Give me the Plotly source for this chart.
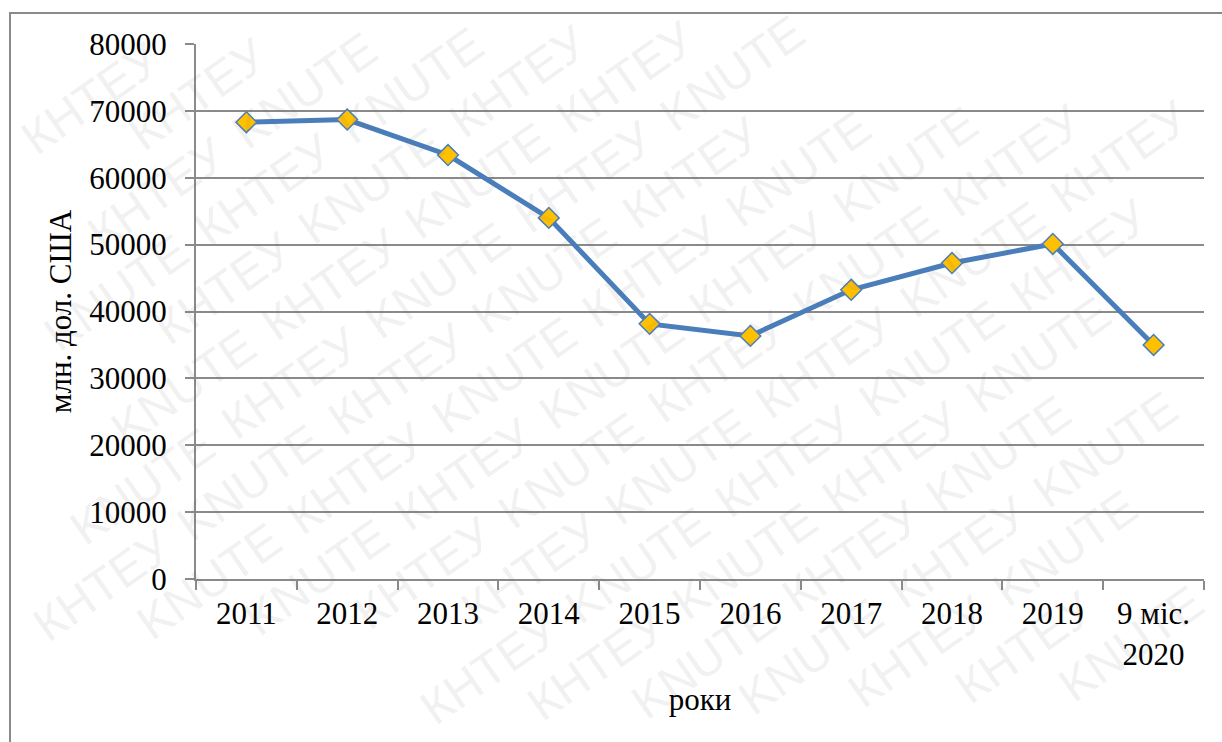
import math
import plotly.graph_objects as go

# ---- data ----
categories = ["2011", "2012", "2013", "2014", "2015", "2016", "2017", "2018", "2019", "9 міс.<br>2020"]
values = [68300, 68700, 63400, 54000, 38150, 36350, 43250, 47250, 50100, 35000]
y_ticks = [0, 10000, 20000, 30000, 40000, 50000, 60000, 70000, 80000]
y_title = "млн. дол. США"
x_title = "роки"
watermark_words = ["KNUTE", "КНТЕУ"]

W, H = 1222, 742
ML, MR, MT, MB = 196, 18, 44, 163
PW, PH = W - ML - MR, H - MT - MB

GRID = "#8a8a8a"
SERIF = "Liberation Serif, Times New Roman, serif"
FS = 31

fig = go.Figure()
fig.add_trace(go.Scatter(
    x=categories, y=values, mode="lines+markers",
    line=dict(color="#4A7EBB", width=5),
    marker=dict(symbol="diamond", size=16, color="#FFC000",
                line=dict(color="#4A7EBB", width=1.5)),
    showlegend=False, hoverinfo="x+y",
))

def px2paper(px, py):
    return (px - ML) / PW, (H - MB - py) / PH

annotations = []
# faint diagonal watermark, one word per annotation, kept fully inside the picture
ang = 35.0
ca, sa = math.cos(math.radians(ang)), math.sin(math.radians(ang))
wfs = 48
spacing = 58
pitch = 180
word_len = 3.45 * wfs
cap = 1.15 * wfs
bw = word_len * ca + cap * sa
bh = word_len * sa + cap * ca
cx, cy = W / 2, H / 2
for k in range(-20, 21):
    for j in range(-12, 13):
        shift = j * pitch + (pitch * 0.5) * (k % 2)
        px = cx + k * spacing * sa + shift * ca
        py = cy + k * spacing * ca - shift * sa
        if px - bw / 2 < 3 or px + bw / 2 > W - 3 or py - bh / 2 < 3 or py + bh / 2 > H - 3:
            continue
        xp, yp = px2paper(px, py)
        annotations.append(dict(
            x=xp, y=yp, xref="paper", yref="paper",
            text=watermark_words[(j + k) % 2],
            showarrow=False, textangle=-ang, xanchor="center", yanchor="middle",
            font=dict(family="Liberation Sans, Arial, sans-serif", size=wfs,
                      color="rgba(110,110,110,0.11)"),
        ))

x0, y1 = px2paper(10, 13)
x1, y0 = px2paper(1240, 760)
shapes = [dict(type="rect", xref="paper", yref="paper", x0=x0, x1=x1, y0=y0, y1=y1,
               line=dict(color=GRID, width=2), fillcolor="rgba(0,0,0,0)", layer="below")]

fig.update_layout(
    width=W, height=H,
    margin=dict(l=ML, r=MR, t=MT, b=MB, pad=0),
    paper_bgcolor="white", plot_bgcolor="white",
    font=dict(family=SERIF, size=FS, color="black"),
    annotations=annotations, shapes=shapes,
)
fig.update_xaxes(
    type="category", range=[-0.5, len(categories) - 0.5],
    showline=True, linecolor=GRID, linewidth=2,
    ticks="outside", tickson="boundaries", ticklen=9, tickwidth=2, tickcolor=GRID,
    showgrid=False, tickfont=dict(family=SERIF, size=FS),
    title=dict(text=x_title, font=dict(family=SERIF, size=FS), standoff=18),
    ticklabelstandoff=6,
)
fig.update_yaxes(
    range=[0, 80000], tickvals=y_ticks, ticktext=[str(v) for v in y_ticks],
    showline=True, linecolor=GRID, linewidth=2,
    ticks="outside", ticklen=9, tickwidth=2, tickcolor=GRID,
    showgrid=True, gridcolor=GRID, gridwidth=2, zeroline=False,
    tickfont=dict(family=SERIF, size=FS),
    title=dict(text=y_title, font=dict(family=SERIF, size=FS), standoff=8),
    ticklabelstandoff=12,
)

fig.write_html("out.html", config={"displayModeBar": False},
               post_script="document.body.style.margin='0';document.body.style.overflow='hidden';")
